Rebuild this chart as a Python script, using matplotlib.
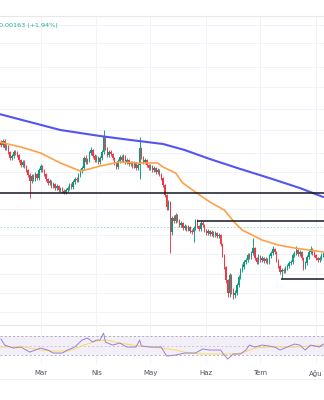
"""Daily candles with 50/200 MA, support lines and an RSI pane (TradingView style)."""
import matplotlib

matplotlib.use("Agg")
import matplotlib.pyplot as plt
import numpy as np
import pandas as pd
from matplotlib.lines import Line2D

# daily candles 8 Feb - 5 Aug; prices in chart units (the price scale is cropped off)
dates = pd.date_range("2024-02-08", "2024-08-05", freq="D")
first_open = 258
close = [255, 259, 252, 254, 248, 242, 244, 248, 247, 245,
         240, 235, 238, 234, 230, 225, 219, 224, 221, 226,
         222, 230, 234, 230, 226, 221, 217, 219, 214, 216,
         212, 214, 210, 211, 209, 207, 210, 212, 215, 213,
         218, 221, 220, 225, 229, 232, 242, 238, 240, 247,
         250, 244, 240, 243, 238, 242, 248, 263, 252, 245,
         248, 246, 242, 237, 233, 239, 243, 240, 244, 238,
         240, 236, 237, 234, 237, 232, 235, 252, 243, 238,
         240, 235, 232, 234, 230, 232, 228, 230, 226, 222,
         215, 205, 193, 198, 168, 182, 179, 185, 180, 175,
         177, 172, 174, 171, 173, 169, 168, 172, 180, 174,
         171, 177, 175, 170, 167, 169, 166, 168, 165, 167,
         164, 165, 156, 145, 133, 120, 107, 125, 110, 105,
         107, 115, 123, 130, 133, 138, 140, 145, 143, 147,
         152, 142, 138, 144, 140, 142, 139, 141, 138, 144,
         147, 151, 148, 140, 134, 128, 130, 129, 132, 134,
         137, 138, 145, 147, 150, 146, 148, 142, 133, 137,
         143, 148, 151, 147, 145, 142, 140, 142, 145, 146]
high = [260, 261, 261, 256, 255, 249, 246, 250, 250, 249,
        246, 241, 240, 240, 235, 231, 227, 226, 226, 228,
        227, 232, 236, 235, 231, 227, 222, 221, 220, 218,
        217, 216, 215, 213, 213, 211, 212, 214, 217, 217,
        220, 223, 223, 227, 231, 234, 244, 245, 242, 249,
        253, 251, 246, 245, 244, 244, 250, 270, 264, 253,
        250, 250, 247, 243, 238, 241, 245, 245, 246, 245,
        242, 241, 239, 239, 239, 238, 237, 263, 253, 244,
        242, 241, 236, 236, 235, 234, 233, 232, 231, 227,
        223, 216, 206, 200, 199, 184, 185, 187, 186, 181,
        179, 178, 176, 175, 175, 174, 171, 174, 181, 181,
        175, 179, 179, 176, 171, 171, 170, 170, 169, 169,
        168, 167, 166, 157, 146, 134, 121, 127, 126, 112,
        110, 117, 125, 132, 136, 140, 142, 147, 147, 149,
        162, 153, 143, 146, 145, 144, 143, 143, 142, 146,
        149, 154, 152, 149, 141, 135, 132, 132, 134, 136,
        139, 140, 147, 149, 154, 151, 150, 149, 143, 139,
        145, 150, 154, 152, 149, 146, 143, 144, 147, 148]
low = [253, 253, 250, 250, 246, 240, 240, 242, 245, 243,
       238, 233, 233, 232, 228, 223, 202, 217, 219, 219,
       220, 220, 228, 228, 224, 219, 215, 215, 212, 212,
       210, 210, 208, 208, 207, 206, 206, 208, 210, 211,
       211, 216, 218, 218, 223, 227, 230, 236, 236, 238,
       245, 242, 238, 238, 236, 236, 240, 246, 250, 243,
       243, 244, 240, 235, 231, 231, 237, 238, 238, 236,
       236, 234, 234, 232, 232, 230, 230, 221, 241, 236,
       236, 233, 230, 230, 228, 228, 226, 226, 224, 220,
       213, 203, 190, 190, 147, 165, 177, 177, 178, 173,
       173, 170, 170, 169, 169, 167, 166, 158, 170, 172,
       169, 169, 173, 168, 165, 165, 164, 164, 163, 163,
       162, 162, 154, 143, 131, 117, 103, 103, 106, 101,
       102, 105, 113, 121, 128, 131, 136, 138, 141, 141,
       145, 140, 136, 136, 138, 138, 137, 137, 136, 136,
       142, 145, 146, 138, 132, 126, 122, 127, 127, 130,
       132, 135, 136, 143, 145, 144, 144, 140, 130, 131,
       135, 141, 146, 145, 143, 140, 138, 138, 140, 143]

# moving averages, read at a few candle indices
ma50_at = [-1, 11, 22, 33, 44, 49, 55, 66, 77, 87, 90, 97, 101, 108, 116, 124, 130, 134, 145, 154, 163, 179]
ma50 = [258, 253, 247, 237, 229, 231, 234, 238, 237, 237, 233, 227, 217, 208, 198, 190, 177, 170, 160, 155, 152, 148]
ma200_at = [-1, 16, 33, 55, 72, 90, 102, 116, 133, 149, 166, 179]
ma200 = [286, 278, 270, 264, 260, 256, 250, 241, 231, 222, 212, 203]

# drawn support / resistance levels and the candle they start from
levels = [207, 179, 121]
level_from = [-1, 108.8, 155.5]
last_price_line = 173
grid_levels = [375, 357, 333, 313, 291, 270, 247, 228, 191, 165, 146, 126, 107, 88]

# RSI(14) and its moving average
rsi_at = [0, 2, 7, 11, 16, 22, 26, 29, 34, 37, 41, 45, 48, 51, 53, 55, 57, 58, 62, 66,
          70, 73, 75, 77, 78, 83, 89, 92, 97, 102, 108, 112, 116, 122, 124, 126, 129, 133,
          136, 138, 141, 145, 149, 152, 155, 159, 163, 166, 169, 172, 177, 179]
rsi = [63.8, 51.3, 45.1, 47.2, 36.8, 45.1, 41.0, 34.8, 34.8, 41.0, 47.2, 61.7, 65.9, 57.6,
       61.7, 61.7, 76.2, 57.6, 51.3, 55.5, 47.2, 47.2, 47.2, 61.7, 49.3, 47.2, 47.2, 28.5,
       30.6, 34.8, 34.8, 43.1, 41.0, 41.0, 30.6, 22.3, 32.7, 32.7, 41.0, 51.3, 47.2, 51.3,
       49.3, 47.2, 41.0, 47.2, 53.4, 51.3, 41.0, 51.3, 47.2, 53.4]
rsi_ma_at = [0, 7, 11, 16, 22, 29, 37, 41, 46, 53, 59, 66, 73, 83, 89, 97, 104, 113, 127,
             134, 141, 149, 156, 163, 171, 179]
rsi_ma = [47.2, 47.2, 49.3, 45.1, 41.0, 38.9, 38.9, 43.1, 51.3, 59.6, 61.7, 55.5, 51.3,
          47.2, 45.1, 41.0, 34.8, 32.7, 32.7, 34.8, 45.1, 47.2, 47.2, 47.2, 49.3, 51.3]

month_names = {3: "Mar", 4: "Nis", 5: "May", 6: "Haz", 7: "Tem", 8: "Ağu"}
change_text = "0.00163 (+1.94%)"

GREEN, RED = "#089981", "#f23645"
GRID = "#f0f3fa"


def main() -> None:
    c = np.asarray(close, dtype=float)
    o = np.r_[first_open, c[:-1]]
    x = np.arange(len(c))
    cols = np.where(c >= o, GREEN, RED)
    month_pos = [i for i, d in enumerate(dates) if d.day == 1]
    xlim = (-0.56, len(c) - 0.56)

    fig = plt.figure(figsize=(3.24, 4.0), dpi=100)
    ax = fig.add_axes([0, 0.19, 1, 0.771])
    rx = fig.add_axes([0, 0.09, 1, 0.0975])

    # price pane
    ax.vlines(x, low, high, colors=cols, lw=0.65, zorder=3)
    ax.bar(x, np.maximum(np.abs(c - o), 0.8), bottom=np.minimum(o, c),
           width=0.78, color=cols, lw=0, zorder=3)
    ax.plot(ma50_at, ma50, color="#ffa04a", lw=1.2, zorder=4,
            solid_capstyle="round", solid_joinstyle="round")
    ax.plot(ma200_at, ma200, color="#5553f2", lw=1.5, zorder=4,
            solid_capstyle="round", solid_joinstyle="round")
    for lv, x0 in zip(levels, level_from):
        ax.hlines(lv, x0, xlim[1], color="#131722", lw=1.1, zorder=5)
    ax.axhline(last_price_line, color="#8ed3c7", lw=0.6, ls=(0, (2, 2)), zorder=2)

    ax.set_xlim(*xlim)
    ax.set_ylim(76, 384.4)
    ax.set_xticks(month_pos)
    ax.set_yticks(grid_levels)
    ax.grid(True, color=GRID, lw=0.7, zorder=0)
    ax.tick_params(length=0, labelbottom=False, labelleft=False)
    for side in ("left", "right", "bottom"):
        ax.spines[side].set_visible(False)
    ax.spines["top"].set_color("#e6e8ee")
    ax.spines["top"].set_linewidth(0.8)

    # RSI pane
    rx.axhspan(30, 70, color="#7e57c2", alpha=0.09, lw=0)
    for lv, alpha in ((70, 1.0), (50, 0.6), (30, 1.0)):
        rx.axhline(lv, color="#9598a1", lw=0.5, ls=(0, (3, 3)), alpha=alpha)
    rx.plot(rsi_ma_at, rsi_ma, color="#f7dc5a", lw=0.7)
    rx.plot(rsi_at, rsi, color="#9b7fd6", lw=0.7)
    rx.set_xlim(*xlim)
    rx.set_ylim(12, 93)
    rx.set_xticks(month_pos)
    rx.set_xticklabels([month_names[dates[i].month] for i in month_pos])
    rx.set_yticks([])
    rx.grid(True, axis="x", color=GRID, lw=0.7)
    rx.tick_params(length=0, pad=4.5, labelsize=5, labelcolor="#50535e")
    for side in ("left", "right", "bottom"):
        rx.spines[side].set_visible(False)
    rx.spines["top"].set_color("#e6e8ee")
    rx.spines["top"].set_linewidth(0.8)

    fig.add_artist(Line2D([0, 1], [0.052, 0.052], color="#eceef2", lw=0.6))
    fig.text(-0.002, 1 - 25 / 400, change_text, color="#22ab94", fontsize=4.6,
             va="center", ha="left")

    fig.savefig("out.png", dpi=100)


if __name__ == "__main__":
    main()
